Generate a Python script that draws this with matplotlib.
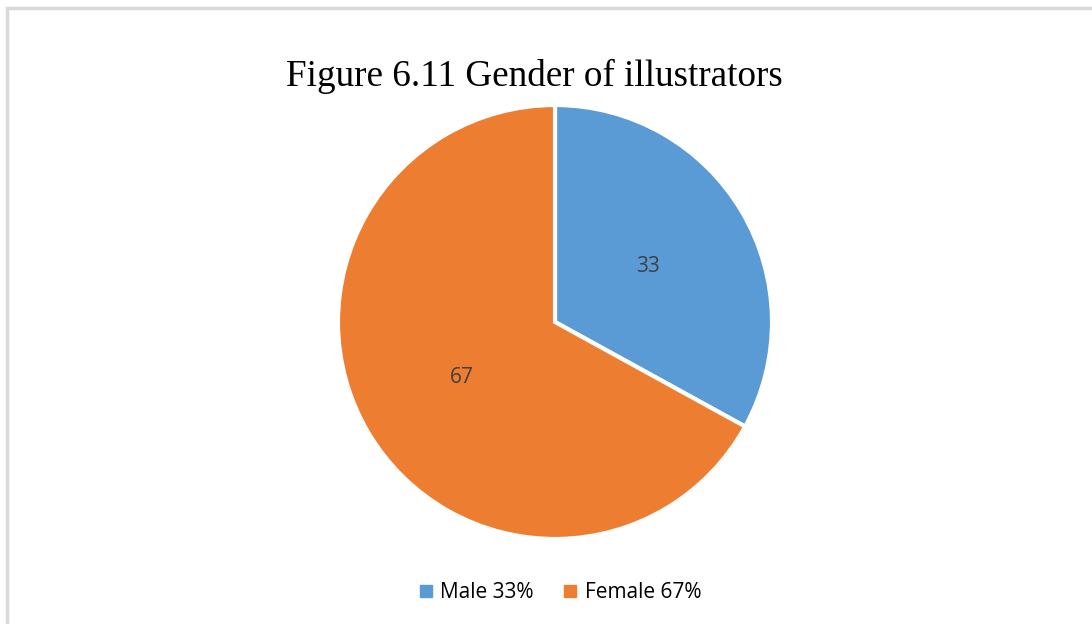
import matplotlib.pyplot as plt
from matplotlib.lines import Line2D
from matplotlib.patches import Rectangle

# Dữ liệu
labels = ['Male 33%', 'Female 67%']
values = [33, 67]
colors = ['#5B9BD5', '#ED7D31']

fig = plt.figure(figsize=(10.92, 6.24), dpi=100)
W, H = 1092, 624

# khung viền xám nhạt
fig.patches.append(Rectangle((6.5 / W, -0.1), 1.2, 1.1 - 7.5 / H, transform=fig.transFigure,
                             fill=False, edgecolor='#d9d9d9', linewidth=2.5))

cx, cy, r = 555, 322, 217
ax = fig.add_axes([(cx - r) / W, (H - cy - r) / H, 2 * r / W, 2 * r / H])
ax.pie(values, colors=colors, startangle=90, counterclock=False,
       autopct=lambda p: f'{p:.0f}', pctdistance=0.5,
       wedgeprops=dict(edgecolor='white', linewidth=3),
       textprops=dict(color='#404040', fontsize=15, family='Open Sans'))
ax.set_xlim(-1, 1)
ax.set_ylim(-1, 1)
ax.set_aspect('equal')
ax.axis('off')

fig.text(534 / W, 1 - 76 / H, 'Figure 6.11 Gender of illustrators', ha='center', va='center',
         fontsize=26.7, family='Liberation Serif', color='black')

handles = [Line2D([], [], marker='s', linestyle='none', markersize=8.5, color=c) for c in colors]
fig.legend(handles, labels, loc='center', bbox_to_anchor=(560 / W, 1 - 593 / H), ncol=2,
           frameon=False, handlelength=0.7, handletextpad=0.35, columnspacing=1.4,
           prop=dict(family='Open Sans', size=15))

fig.savefig('out.png', dpi=100)
